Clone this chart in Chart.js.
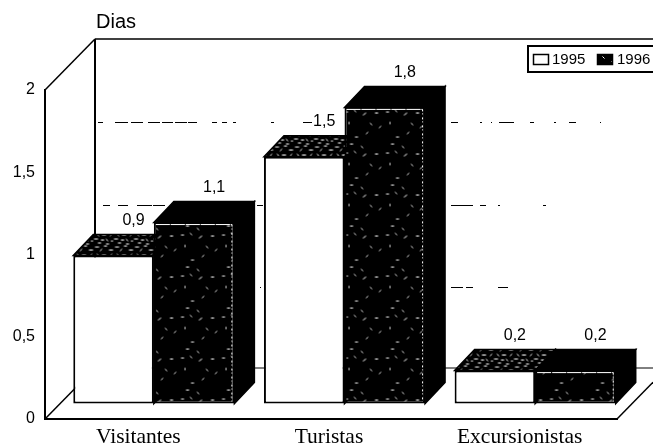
<!DOCTYPE html>
<html>
<head>
<meta charset="utf-8">
<style>
body { margin: 0; background: #fff; overflow: hidden; }
canvas { display: block; }
</style>
<script src="https://cdn.jsdelivr.net/npm/chart.js@4/dist/chart.umd.min.js"></script>
</head>
<body>
<canvas id="chart" width="653" height="444"></canvas>
<script>
// Values
const categories = ['Visitantes', 'Turistas', 'Excursionistas'];
const values1995 = [0.9, 1.5, 0.2];
const values1996 = [1.1, 1.8, 0.2];
const seriesNames = ['1995', '1996'];
const gridValues = [0.5, 1, 1.5];

// Pieces of the faded gridlines that survive on the back wall [from, to]
const gridPieces = {
	0.5: [[260, 261], [451, 463], [466, 473], [498, 508]],
	1: [[103, 110], [118, 128], [137, 152], [153, 165], [257, 263], [451, 473], [480, 486], [498, 500], [543, 546]],
	1.5: [[98, 103], [115, 128], [131, 143], [148, 160], [162, 173], [175, 187], [188, 197], [212, 217], [222, 227], [233, 236],
		[271, 274], [303, 312], [451, 458], [480, 482], [491, 492], [499, 514], [530, 534], [554, 556], [569, 576], [600, 601]]
};

// 3D look
const wallX = 50, wallY = -51;      // front axis -> back wall
const plinthX = 13.5, plinthY = -15.5; // bars stand a bit behind the front edge
const depthX = 20, depthY = -21;    // bar depth

// speckle dashes for the scanned halftone [x, y, dx, dy]
const speckleDark = [[3, 4, 3, 0], [12, 2, 2, 2], [21, 7, 3, -2], [33, 5, 3, 0], [7, 14, 0, 2], [28, 15, 2, 2],
	[37, 20, 2, -2], [13, 29, 3, 0], [24, 26, 2, -2], [8, 36, 3, 0], [19, 38, 2, 2]];
const speckleTop = [[1, 2, 4, 0], [6, 6, 2, -2], [10, 1, 3, 0], [15, 5, 4, 0], [3, 9, 2, 2], [8, 10, 4, 0], [16, 11, 2, -2], [0, 14, 4, 0], [7, 15, 3, 0], [12, 14, 2, 2], [17, 16, 2, 0], [4, 18, 3, 0], [12, 19, 3, 0]];

function makePattern(dashes, size) {
	const tile = document.createElement('canvas');
	tile.width = size;
	tile.height = size;
	const t = tile.getContext('2d');
	t.fillStyle = '#000';
	t.fillRect(0, 0, size, size);
	t.strokeStyle = '#fff';
	t.lineWidth = 1;
	dashes.forEach(d => {
		t.beginPath();
		t.moveTo(d[0] + 0.5, d[1] + 0.5);
		t.lineTo(d[0] + d[2] + 0.5, d[1] + d[3] + 0.5);
		t.stroke();
	});
	return t.createPattern(tile, 'repeat');
}

const ctx0 = document.getElementById('chart').getContext('2d');
const darkFill = makePattern(speckleDark, 41);
const topFill = makePattern(speckleTop, 20);

function poly(ctx, pts, fill) {
	ctx.beginPath();
	pts.forEach((p, i) => i ? ctx.lineTo(p[0], p[1]) : ctx.moveTo(p[0], p[1]));
	ctx.closePath();
	if (fill) {
		ctx.fillStyle = fill;
		ctx.fill();
	}
	ctx.strokeStyle = '#000';
	ctx.lineWidth = 1.5;
	ctx.stroke();
}

function line(ctx, x1, y1, x2, y2, w) {
	ctx.beginPath();
	ctx.moveTo(x1, y1);
	ctx.lineTo(x2, y2);
	ctx.lineWidth = w;
	ctx.strokeStyle = '#000';
	ctx.stroke();
}

// Chart.js paints the left bar of a group last, here 1996 has to cover 1995
function drawBars(chart, index) {
	const ctx = chart.ctx;
	const meta = chart.getDatasetMeta(index);
	ctx.save();
	ctx.translate(plinthX, plinthY);
	meta.controller.draw();
	meta.data.forEach(bar => {
		const l = bar.x - bar.width / 2, r = bar.x + bar.width / 2;
		const t = bar.y, b = bar.base;
		poly(ctx, [[r, t], [r + depthX, t + depthY], [r + depthX, b + depthY], [r, b]], '#000');
		poly(ctx, [[l, t], [l + depthX, t + depthY], [r + depthX, t + depthY], [r, t]], index === 0 ? topFill : '#000');
		if (index === 1) {
			// the bright rim the scan left on the dark bars
			ctx.strokeStyle = '#fff';
			ctx.lineWidth = 1;
			ctx.setLineDash([14, 1]);
			ctx.beginPath();
			ctx.moveTo(l + 2, t + 2);
			ctx.lineTo(r - 2.5, t + 2);
			ctx.stroke();
			ctx.setLineDash([2, 2, 1, 3]);
			ctx.beginPath();
			ctx.moveTo(r - 2.5, t + 2);
			ctx.lineTo(r - 2.5, b - 2);
			ctx.stroke();
			ctx.setLineDash([]);
		}
	});
	ctx.restore();
}

const box3d = {
	id: 'box3d',
	// walls and gridlines go under everything
	beforeDatasetsDraw(chart) {
		const { ctx, chartArea: a, scales: { y } } = chart;
		const w = chart.width;
		ctx.save();
		line(ctx, a.left, a.top, a.left + wallX, a.top + wallY, 1.5);
		line(ctx, a.left + wallX, a.top + wallY, a.left + wallX, a.bottom + wallY, 2);
		line(ctx, a.left, a.bottom, a.left + wallX, a.bottom + wallY, 1.5);
		line(ctx, a.left + wallX, a.top + wallY, w, a.top + wallY, 1.5);
		line(ctx, a.left + wallX, a.bottom + wallY, w, a.bottom + wallY, 1);
		line(ctx, a.right, a.bottom, w, a.bottom - (w - a.right) * 51 / 50, 1.5);
		gridValues.forEach(v => {
			const py = Math.round(y.getPixelForValue(v) + wallY) + 1.5;
			gridPieces[v].forEach(p => line(ctx, p[0], py, p[1], py, 1));
		});
		ctx.restore();
	},
	beforeDatasetDraw() {
		return false; // painted in afterDatasetsDraw instead
	},
	afterDatasetsDraw(chart) {
		const ctx = chart.ctx;
		drawBars(chart, 0);
		drawBars(chart, 1);

		ctx.save();
		ctx.fillStyle = '#000';

		// value labels above the back edge of each bar
		ctx.font = '16px "Liberation Sans"';
		ctx.textAlign = 'center';
		ctx.textBaseline = 'middle';
		chart.data.datasets.forEach((ds, i) => {
			chart.getDatasetMeta(i).data.forEach((bar, j) => {
				const text = String(ds.data[j]).replace('.', ',');
				ctx.fillText(text, bar.x + plinthX + depthX, bar.y + plinthY + depthY - 14);
			});
		});

		// axis name
		ctx.font = '20px "Liberation Sans"';
		ctx.textAlign = 'left';
		ctx.textBaseline = 'alphabetic';
		ctx.fillText('Dias', 96, 28);

		// what is left of the cropped title
		ctx.font = '16px "Liberation Sans"';
		ctx.fillText('(', 223, -3);
		ctx.fillText(')', 360, -3);

		// legend box, running off the right edge like the original
		ctx.fillStyle = '#fff';
		ctx.fillRect(528, 46, 130, 26);
		ctx.strokeStyle = '#000';
		ctx.lineWidth = 2;
		ctx.strokeRect(528, 46, 130, 26);
		ctx.lineWidth = 1.5;
		ctx.strokeRect(533.5, 54.5, 15, 10);
		ctx.fillStyle = darkFill;
		ctx.fillRect(597, 54, 16, 11);
		ctx.strokeRect(597.5, 54.5, 15, 10);
		ctx.fillStyle = '#000';
		ctx.font = '15px "Liberation Sans"';
		ctx.textBaseline = 'middle';
		ctx.fillText(seriesNames[0], 552, 60);
		ctx.fillText(seriesNames[1], 617, 60);
		ctx.restore();
	}
};

new Chart(ctx0, {
	type: 'bar',
	data: {
		labels: categories,
		datasets: [
			{ label: seriesNames[0], data: values1995, backgroundColor: '#fff', borderColor: '#000', borderWidth: 2, borderSkipped: false },
			{ label: seriesNames[1], data: values1996, backgroundColor: darkFill, borderColor: '#000', borderWidth: 2, borderSkipped: false }
		]
	},
	options: {
		responsive: false,
		animation: false,
		events: [],
		layout: { padding: { top: 90, right: 36, left: 0, bottom: 0 } },
		datasets: { bar: { categoryPercentage: 0.845, barPercentage: 1 } },
		plugins: {
			legend: { display: false },
			tooltip: { enabled: false }
		},
		scales: {
			x: {
				grid: { display: false, drawTicks: false },
				border: { color: '#000', width: 2 },
				afterFit(s) { s.height = 25; },
				ticks: {
					color: '#000',
					padding: 5,
					labelOffset: -2,
					maxRotation: 0,
					font: { family: '"Liberation Serif"', size: 21.5 }
				}
			},
			y: {
				min: 0,
				max: 2,
				grid: { display: false, drawTicks: false },
				border: { color: '#000', width: 2 },
				afterFit(s) { s.width = 45; },
				ticks: {
					stepSize: 0.5,
					color: '#000',
					padding: 10,
					font: { family: '"Liberation Sans"', size: 16 },
					callback: v => String(v).replace('.', ',')
				}
			}
		}
	},
	plugins: [box3d]
});
</script>
</body>
</html>
